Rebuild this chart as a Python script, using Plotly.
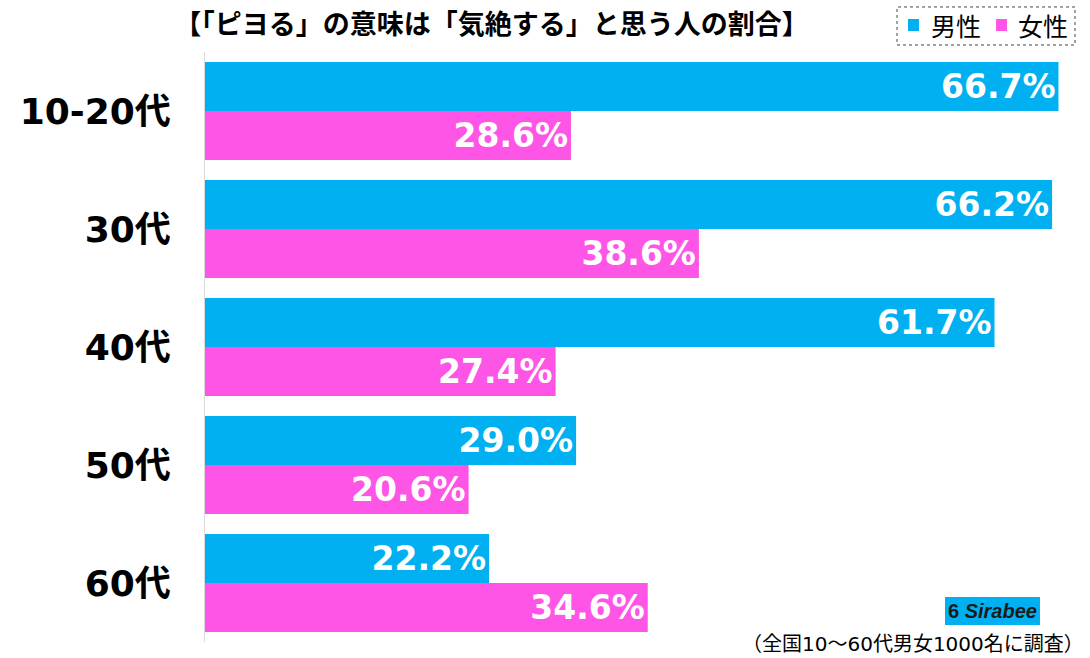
import plotly.graph_objects as go

categories = ["10-20代", "30代", "40代", "50代", "60代"]
male = [66.7, 66.2, 61.7, 29.0, 22.2]
female = [28.6, 38.6, 27.4, 20.6, 34.6]

title_text = "【「ピヨる」の意味は「気絶する」と思う人の割合】"
note_text = "（全国10～60代男女1000名に調査）"

BLUE = "#00b0f0"
PINK = "#ff55e6"
JP = "Noto Sans CJK JP"

fig = go.Figure()
for name, vals, color in [("男性", male, BLUE), ("女性", female, PINK)]:
    fig.add_trace(
        go.Bar(
            y=categories,
            x=vals,
            name=name,
            orientation="h",
            marker=dict(color=color, line=dict(width=0)),
            text=[f"{v:.1f}%" for v in vals],
            textposition="inside",
            insidetextanchor="end",
            textfont=dict(family="DejaVu Sans", size=33, color="white", weight="bold"),
            showlegend=False,
            hoverinfo="skip",
        )
    )

fig.update_layout(
    width=1090,
    height=658,
    margin=dict(l=205, r=20, t=52, b=16, autoexpand=False),
    paper_bgcolor="white",
    plot_bgcolor="white",
    barmode="group",
    bargap=0.17,
    bargroupgap=0,
    uniformtext=dict(minsize=10, mode="show"),
    title=dict(
        text=title_text,
        x=0.451,
        xanchor="center",
        y=0.962,
        yanchor="middle",
        font=dict(family=JP, size=27, color="black", weight="bold"),
    ),
)

fig.update_xaxes(
    range=[0, 67.6],
    showgrid=False,
    zeroline=False,
    showticklabels=False,
    showline=False,
)
fig.update_yaxes(
    autorange="reversed",
    automargin=False,
    showgrid=False,
    showline=True,
    linecolor="#d9d9d9",
    linewidth=1,
    ticks="",
    ticklabelstandoff=26,
    tickfont=dict(family="DejaVu Sans, " + JP, size=36, color="black", weight="bold"),
)

# hand-drawn legend with dotted border
fig.add_shape(type="rect", xref="paper", yref="paper",
              x0=0.800, x1=1.0058, y0=1.0119, y1=1.0763,
              line=dict(color="#444444", width=1, dash="dot"))
legend_items = [("男性", BLUE, 0.8127, 0.868), ("女性", PINK, 0.9145, 0.969)]
for label, color, sx, tx in legend_items:
    fig.add_shape(type="rect", xref="paper", yref="paper",
                  x0=sx, x1=sx + 0.0127, y0=1.0356, y1=1.0559,
                  fillcolor=color, line=dict(width=0))
    fig.add_annotation(text=label, xref="paper", yref="paper", x=tx, y=1.0458,
                       xanchor="center", yanchor="middle", showarrow=False,
                       font=dict(family=JP, size=25, color="black"))

# logo box
fig.add_shape(type="rect", xref="paper", yref="paper",
              x0=0.8555, x1=0.9653, y0=0.0288, y1=0.0763,
              fillcolor=BLUE, line=dict(width=0))
fig.add_annotation(
    text="<b>6</b> <b><i>Sirabee</i></b>",
    xref="paper", yref="paper", x=0.910, y=0.0525,
    xanchor="center", yanchor="middle", showarrow=False,
    font=dict(family="Liberation Sans", size=20, color="#1a1a1a"),
)
fig.add_annotation(
    text=note_text,
    xref="paper", yref="paper", x=1.019, xanchor="right",
    y=-0.003, yanchor="middle",
    showarrow=False,
    font=dict(family="DejaVu Sans, " + JP, size=20, color="black"),
)

fig.write_html(
    "out.html",
    config={"displayModeBar": False},
    post_script="document.body.style.margin='0';",
)
